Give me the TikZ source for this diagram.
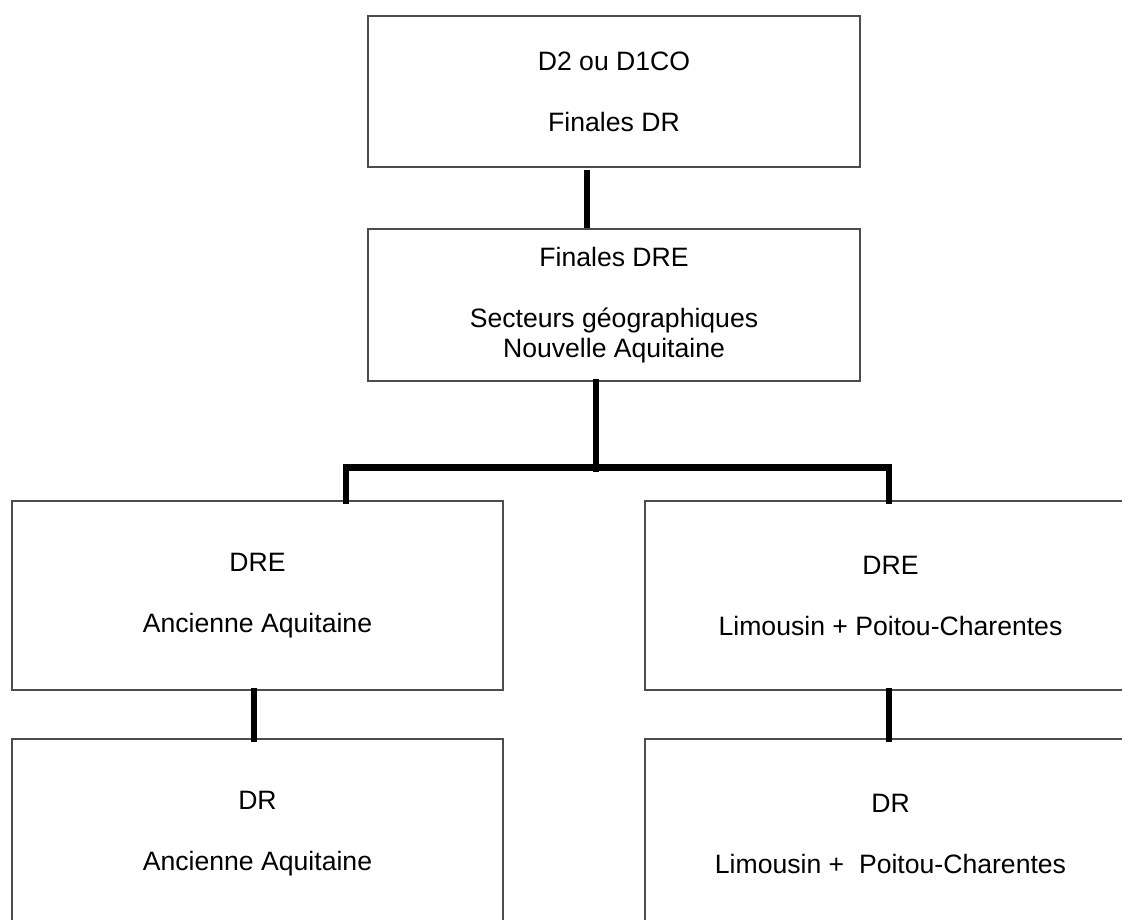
\documentclass[tikz,border=0pt]{standalone}
\usepackage{fontspec}
\setmainfont{Liberation Sans}
\usepackage{tikz}
\usetikzlibrary{arrows,backgrounds}

\tikzset{
  box/.style={draw=black!70, line width=0.7pt, minimum width=245.5pt, align=center,
    font=\fontsize{13.3}{15.25pt}\selectfont, inner sep=0pt},
  link/.style={line width=3.2pt, line cap=rect}
}

\begin{document}
\begin{tikzpicture}[x=0.5pt,y=-0.5pt]
      \clip (0,0) rectangle (1122,919);
      \node[name=top, box, minimum width=246pt, minimum height=75.5pt] at (614,91.5) {D2 ou D1CO\\[15.25pt]Finales DR};
      \node[name=sect, box, minimum width=246pt, minimum height=76pt] at (614,305) {Finales DRE\\[15.25pt]Secteurs g\'eographiques\\Nouvelle Aquitaine};
      \node[name=dreaq, box, minimum height=94.5pt] at (257.5,595.5) {DRE\\[15.25pt]Ancienne Aquitaine};
      \node[name=drelpc, box, minimum height=94.5pt] at (890.5,595.5) {DRE\\[15.25pt]Limousin + Poitou-Charentes};
      \node[name=draq, box, minimum height=94.5pt] at (257.5,833.5) {DR\\[15.25pt]Ancienne Aquitaine};
      \node[name=drlpc, box, minimum height=94.5pt] at (890.5,833.5) {DR\\[15.25pt]Limousin +\ \ Poitou-Charentes};
      \draw[link] ([xshift=-13.5pt,yshift=-3pt]top.south) -- ([xshift=-13.5pt,yshift=1.5pt]sect.north);
      \draw[link] ([xshift=-9pt]sect.south) -- ([xshift=-9pt,yshift=-43.5pt]sect.south);
      \draw[link] ([xshift=44.25pt]dreaq.north) |- ([xshift=-0.75pt,yshift=16.5pt]drelpc.north) -- ([xshift=-0.75pt]drelpc.north);
      \draw[link] ([xshift=-1.75pt]dreaq.south) -- ([xshift=-1.75pt]draq.north);
      \draw[link] ([xshift=-0.75pt]drelpc.south) -- ([xshift=-0.75pt]drlpc.north);
   \end{tikzpicture}
\end{document}
